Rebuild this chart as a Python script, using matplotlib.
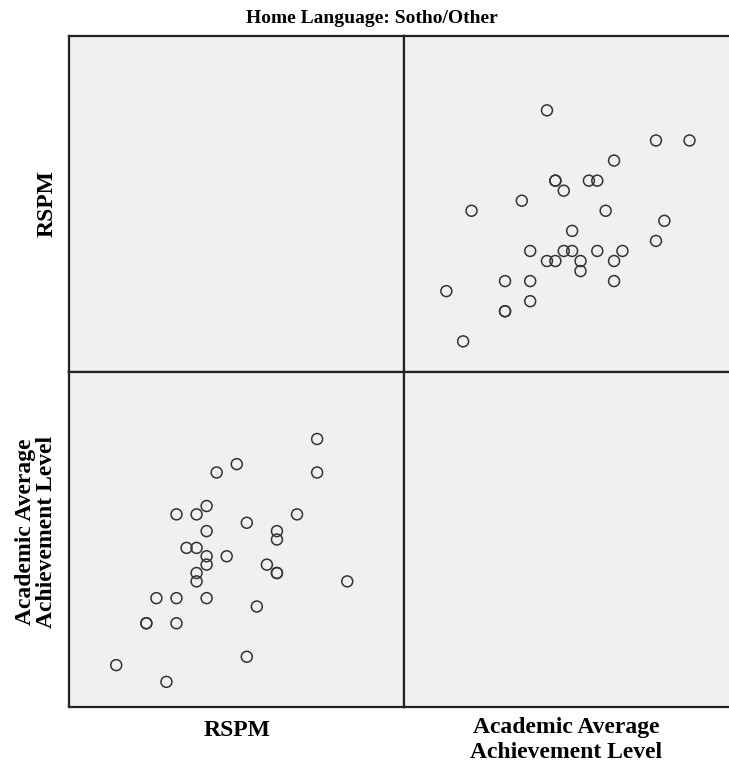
import matplotlib.pyplot as plt

# RSPM score and academic average for each pupil (Sotho/Other group)
rspm = [40, 40, 32, 30, 29, 26, 28, 38, 33, 29, 36, 36, 27, 28, 29, 31, 29, 35,
        36, 36, 28, 28, 43, 24, 26, 29, 34, 23, 23, 26, 33, 20, 25]
academic = [74, 70, 71, 70, 66, 65, 65, 65, 64, 63, 63, 62, 61, 61, 60, 60, 59, 59,
            58, 58, 58, 57, 57, 55, 55, 55, 54, 52, 52, 52, 48, 47, 45]

title = "Home Language: Sotho/Other"
var_rspm = "RSPM"
var_acad = "Academic Average\nAchievement Level"

W, H = 729, 767
fig = plt.figure(figsize=(W / 100, H / 100), dpi=100)

bg = '#f0f0f0'
edge = '#222222'
serif = ['Liberation Serif', 'DejaVu Serif']


def panel(x0, y0, x1, y1):
    ax = fig.add_axes([x0 / W, 1 - y1 / H, (x1 - x0) / W, (y1 - y0) / H])
    ax.set_facecolor(bg)
    ax.set_xticks([])
    ax.set_yticks([])
    for s in ax.spines.values():
        s.set_color(edge)
        s.set_linewidth(1.6)
    return ax


# --- top row: RSPM on y ---
ax_tl = panel(69, 36, 404, 372)
ax_tr = panel(404, 36, 739, 372)
ax_tr.scatter(academic, rspm, s=62, facecolors='none', edgecolors='#333333', linewidths=1.1)
ax_tr.set_xlim(39.95, 79.9)
ax_tr.set_ylim(16.95, 50.4)

# --- bottom row: academic on y ---
ax_bl = panel(69, 372, 404, 707)
ax_br = panel(404, 372, 739, 707)
ax_bl.scatter(rspm, academic, s=62, facecolors='none', edgecolors='#333333', linewidths=1.1)
ax_bl.set_xlim(15.3, 48.65)
ax_bl.set_ylim(42.0, 82.0)

# titles and variable names
lab = dict(fontsize=17, fontweight='bold', family=serif)
fig.text(372 / W, 1 - 23 / H, title, ha='center', va='baseline',
         fontsize=14, fontweight='bold', family=serif)
fig.text(237 / W, 1 - 736 / H, var_rspm, ha='center', va='baseline', **lab)
acad_lines = var_acad.split('\n')
fig.text(566 / W, 1 - 733 / H, acad_lines[0], ha='center', va='baseline', **lab)
fig.text(566 / W, 1 - 758 / H, acad_lines[1], ha='center', va='baseline', **lab)
fig.text(47 / W, 1 - 204 / H, var_rspm, ha='center', va='center', rotation=90, **lab)
fig.text(36 / W, 1 - 532 / H, var_acad, ha='center', va='center', rotation=90,
         linespacing=1.05, **lab)

fig.savefig('out.png', dpi=100)
